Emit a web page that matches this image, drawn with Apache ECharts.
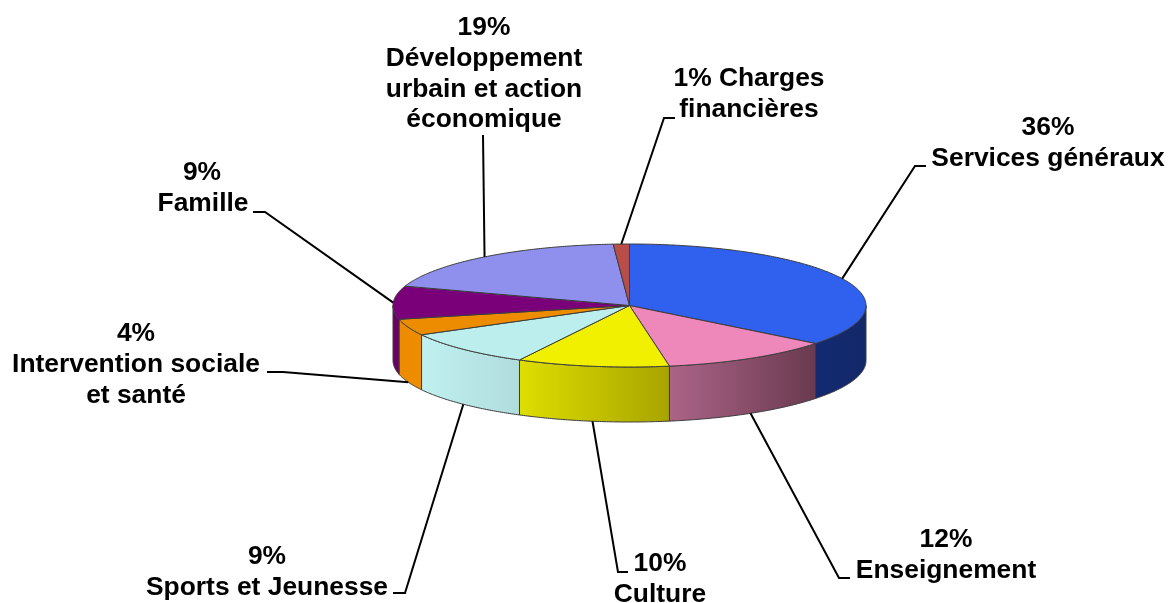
<!DOCTYPE html>
<html><head><meta charset="utf-8">
<script src="https://cdn.jsdelivr.net/npm/echarts@6/dist/echarts.min.js"></script>
<style>html,body{margin:0;padding:0;background:#fff}#c{width:1170px;height:603px}</style>
</head><body><div id="c"></div>
<script>
// Data (clockwise from 12 o'clock)
const categories = ['Services généraux','Enseignement','Culture','Sports et Jeunesse','Intervention sociale et santé','Famille','Développement urbain et action économique','Charges financières'];
const values = [35.6, 11.7, 10.4, 9.4, 4.3, 8.7, 18.8, 1.1];

// Styles
const topColors = ['#2f60ee','#ee88bb','#f0f000','#bdeeee','#ee8c00','#7a007a','#8f8fee','#b94d48'];
const sideFrom = ['#142a70','#ac6488','#dede00','#c0f0f0','#ee8c00','#680068','#6f6fb8','#8a3a36'];
const sideTo = ['#122868','#693a4f','#a8a400','#b0dcdc','#ee8c00','#680068','#6f6fb8','#8a3a36'];

// Layout
const pie = {cx:629.5, cy:305.5, rx:236.5, ry:61.5, depth:55};
const labelLines = [
  [['{p}'],['Services généraux']],
  [['{p}'],['Enseignement']],
  [['{p}'],['Culture']],
  [['{p}'],['Sports et Jeunesse']],
  [['{p}'],['Intervention sociale'],['et santé']],
  [['{p}'],['Famille']],
  [['{p}'],['Développement'],['urbain et action'],['économique']],
  [['{p} Charges'],['financières']]
];
const labelX = [[1048,1048],[946,946],[660,660],[267,267],[136,136,136],[202,203],[484,484,484,484],[749,749]];
const labelY = [128,540,564,557,334,173,28,79];
const lineGap = 30.7;
const elbows = [
  [[915,166],[926,166]],
  [[839,578],[850,578]],
  [[618,572],[628,572]],
  [[405,593],[393,593]],
  [[283,372],[267,372]],
  [[265,212],[253,212]],
  [[483,135]],
  [[664,118],[675,118]]
];
const edge = '#3c3c3c';
const font = 'bold 26.4px "Liberation Sans", Arial, sans-serif';

const total = values.reduce((a,b)=>a+b,0);
const starts = values.map((v,i)=>values.slice(0,i).reduce((a,b)=>a+b,0));
const seriesData = values.map((v,i)=>[v,starts[i]]);

function pt(th, dy){
  return [pie.cx + pie.rx*Math.sin(th), pie.cy - pie.ry*Math.cos(th) + (dy||0)];
}
function arc(a,b,dy){
  const n = Math.max(2, Math.ceil((b-a)/0.01)), out=[];
  for(let k=0;k<=n;k++) out.push(pt(a+(b-a)*k/n,dy));
  return out;
}
function renderItem(params, api){
  const i = params.dataIndex, v = api.value(0), s = api.value(1);
  const a = s/total*2*Math.PI, b = (s+v)/total*2*Math.PI;
  const children = [];
  // outer wall (front half only)
  const fa = Math.max(a, Math.PI/2), fb = Math.min(b, Math.PI*1.5);
  if(fb>fa){
    const up = arc(fa,fb,0), down = arc(fa,fb,pie.depth).reverse();
    children.push({type:'polygon', silent:true, shape:{points:up.concat(down)},
      style:{fill:new echarts.graphic.LinearGradient(0,0,1,0,[{offset:0,color:sideFrom[i]},{offset:1,color:sideTo[i]}]), stroke:edge, lineWidth:1}});
  }
  // top face
  children.push({type:'polygon', silent:true, shape:{points:[[pie.cx,pie.cy]].concat(arc(a,b,0))},
    style:{fill:topColors[i], stroke:edge, lineWidth:1, lineJoin:'round'}});
  // leader line, anchored on the slice's mid angle
  const mid = (a+b)/2, front = Math.cos(mid)<0;
  const anchor = pt(mid, front ? pie.depth : 0);
  children.push({type:'polyline', silent:true, shape:{points:[anchor].concat(elbows[i])},
    style:{fill:null, stroke:'#000', lineWidth:2}});
  // label
  const pct = Math.round(v)+'%';
  labelLines[i].forEach((ln,k)=>{
    children.push({type:'text', silent:true, style:{text:ln[0].replace('{p}',pct), x:labelX[i][k], y:labelY[i]+k*lineGap,
      font:font, fill:'#000', align:'center', verticalAlign:'middle'}});
  });
  return {type:'group', children};
}
const chart = echarts.init(document.getElementById('c'));
chart.setOption({
  animation:false,
  backgroundColor:'#fff',
  series:[{type:'custom', coordinateSystem:'none', renderItem, data:seriesData, silent:true, name:'Budget',
    encode:{value:0}, dimensions:['value','start']}]
});
</script></body></html>
